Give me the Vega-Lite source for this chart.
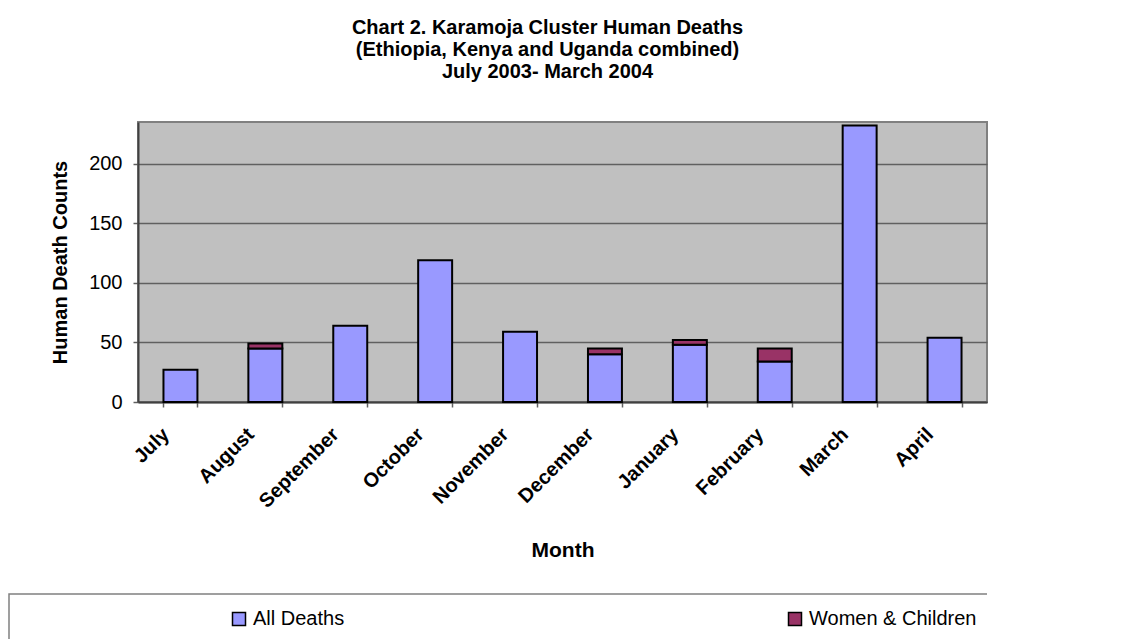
{
  "$schema": "https://vega.github.io/schema/vega-lite/v6.json",
  "width": 849,
  "height": 280,
  "autosize": {"type": "none"},
  "padding": {"left": 138, "top": 122, "right": 146, "bottom": 237},
  "background": "white",
  "title": {
    "text": ["Chart 2. Karamoja Cluster Human Deaths", "(Ethiopia, Kenya and Uganda combined)", "July 2003- March 2004"],
    "font": "Liberation Sans",
    "fontSize": 20,
    "fontWeight": "bold",
    "color": "black",
    "lineHeight": 22,
    "anchor": "middle",
    "dx": -15,
    "offset": 40
  },
  "data": {
    "values": [
      {"Month": "July", "Series": "All Deaths", "Deaths": 27, "Order": 1},
      {"Month": "August", "Series": "All Deaths", "Deaths": 45, "Order": 1},
      {"Month": "August", "Series": "Women & Children", "Deaths": 4, "Order": 2},
      {"Month": "September", "Series": "All Deaths", "Deaths": 64, "Order": 1},
      {"Month": "October", "Series": "All Deaths", "Deaths": 119, "Order": 1},
      {"Month": "November", "Series": "All Deaths", "Deaths": 59, "Order": 1},
      {"Month": "December", "Series": "All Deaths", "Deaths": 40, "Order": 1},
      {"Month": "December", "Series": "Women & Children", "Deaths": 5, "Order": 2},
      {"Month": "January", "Series": "All Deaths", "Deaths": 48, "Order": 1},
      {"Month": "January", "Series": "Women & Children", "Deaths": 4, "Order": 2},
      {"Month": "February", "Series": "All Deaths", "Deaths": 34, "Order": 1},
      {"Month": "February", "Series": "Women & Children", "Deaths": 11, "Order": 2},
      {"Month": "March", "Series": "All Deaths", "Deaths": 232, "Order": 1},
      {"Month": "April", "Series": "All Deaths", "Deaths": 54, "Order": 1}
    ]
  },
  "mark": {"type": "bar", "stroke": "black", "strokeWidth": 2},
  "encoding": {
    "x": {
      "field": "Month",
      "type": "nominal",
      "sort": ["July", "August", "September", "October", "November", "December", "January", "February", "March", "April"],
      "scale": {"paddingInner": 0.6, "paddingOuter": 0.3},
      "axis": {
        "title": "Month",
        "titleFont": "Liberation Sans",
        "titleFontSize": 21,
        "titleFontWeight": "bold",
        "titleColor": "black",
        "titlePadding": 28,
        "labelFont": "Liberation Sans",
        "labelFontSize": 20,
        "labelFontWeight": "bold",
        "labelColor": "black",
        "labelAngle": -45,
        "labelAlign": "right",
        "labelBaseline": "top",
        "labelOffset": -22,
        "labelPadding": 17,
        "tickBand": "extent",
        "tickSize": 5,
        "tickColor": "#606060",
        "tickWidth": 1.5,
        "domainColor": "#404040",
        "domainWidth": 2,
        "grid": false
      }
    },
    "y": {
      "field": "Deaths",
      "type": "quantitative",
      "stack": "zero",
      "scale": {"domain": [0, 235], "nice": false},
      "axis": {
        "title": "Human Death Counts",
        "titleFont": "Liberation Sans",
        "titleFontSize": 20,
        "titleFontWeight": "bold",
        "titleColor": "black",
        "titlePadding": 18,
        "values": [0, 50, 100, 150, 200],
        "labelFont": "Liberation Sans",
        "labelFontSize": 20,
        "labelColor": "black",
        "labelPadding": 11,
        "tickSize": 5,
        "tickColor": "#606060",
        "tickWidth": 1.5,
        "domainColor": "#404040",
        "domainWidth": 2,
        "grid": true,
        "gridColor": "#606060",
        "gridWidth": 1.5
      }
    },
    "fill": {
      "field": "Series",
      "type": "nominal",
      "scale": {"domain": ["All Deaths", "Women & Children"], "range": ["#9999FF", "#993366"]},
      "legend": {
        "orient": "none",
        "legendX": -129,
        "legendY": 472,
        "direction": "horizontal",
        "columns": 2,
        "columnPadding": 440,
        "title": " ",
        "titleOrient": "left",
        "titleFontSize": 1,
        "titlePadding": 205,
        "symbolType": "square",
        "symbolSize": 169,
        "symbolStrokeColor": "black",
        "labelFont": "Liberation Sans",
        "labelFontSize": 20,
        "labelColor": "black",
        "labelOffset": 4,
        "labelLimit": 400,
        "encode": {
          "legend": {"update": {"strokeDash": {"value": [978, 1030, 300, 0]}}}
        }
      }
    },
    "order": {"field": "Order", "type": "quantitative"}
  },
  "config": {
    "view": {"fill": "#C0C0C0", "stroke": "#808080", "strokeWidth": 2},
    "legend": {"padding": 15, "strokeColor": "#808080", "strokeWidth": 1.5, "symbolStrokeWidth": 1.5}
  }
}
